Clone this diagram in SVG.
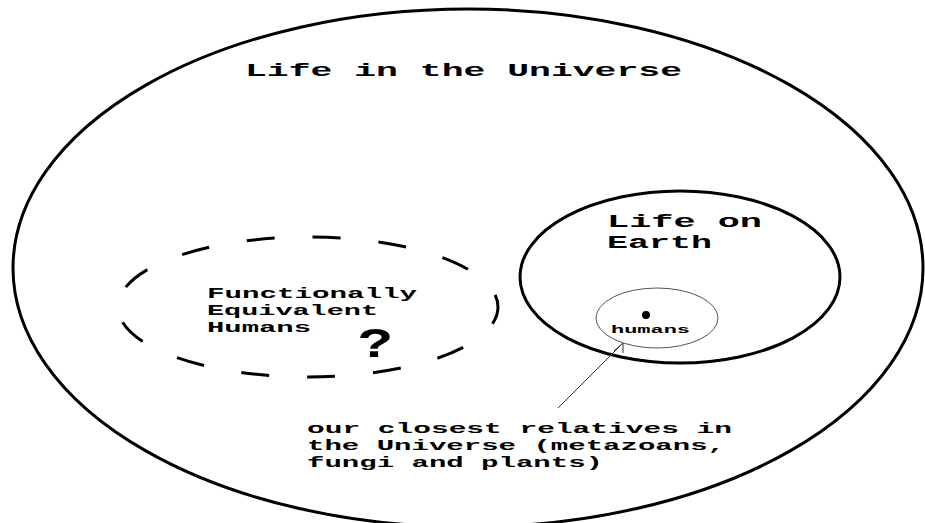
<svg xmlns="http://www.w3.org/2000/svg" width="925" height="523" viewBox="0 0 925 523">
<style>
.t{font-family:"Liberation Mono","DejaVu Sans Mono",monospace;font-weight:bold;fill:#000}
.thick{fill:none;stroke:#000;stroke-width:3}
</style>
<rect width="925" height="523" fill="#fff"/>
<g id="universe">
<ellipse class="thick" cx="468" cy="268" rx="455" ry="259"/>
<text class="t" x="245" y="76" font-size="19" textLength="437" lengthAdjust="spacingAndGlyphs">Life in the Universe</text>
</g>
<g id="functionally-equivalent">
<ellipse cx="308" cy="307" rx="190" ry="70" fill="none" stroke="#000" stroke-width="3" stroke-dasharray="28 38" stroke-dashoffset="10"/>
<text class="t" font-size="15"><tspan x="207" y="298" textLength="210" lengthAdjust="spacingAndGlyphs">Functionally</tspan><tspan x="207" y="315" textLength="171" lengthAdjust="spacingAndGlyphs">Equivalent</tspan><tspan x="207" y="332" textLength="104" lengthAdjust="spacingAndGlyphs">Humans</tspan></text>
<text class="t" x="358" y="357" font-size="42" textLength="35" lengthAdjust="spacingAndGlyphs">?</text>
</g>
<g id="earth">
<ellipse class="thick" cx="680" cy="277" rx="160" ry="86"/>
<text class="t" font-size="19"><tspan x="607" y="227" textLength="155" lengthAdjust="spacingAndGlyphs">Life on</tspan><tspan x="607" y="248" textLength="105" lengthAdjust="spacingAndGlyphs">Earth</tspan></text>
</g>
<g id="humans">
<ellipse cx="657" cy="318" rx="61" ry="30" fill="none" stroke="#555" stroke-width="1"/>
<circle cx="646" cy="315" r="4" fill="#000"/>
<text class="t" x="611" y="333" font-size="11" textLength="79" lengthAdjust="spacingAndGlyphs">humans</text>
</g>
<g id="connectors">
<line x1="558" y1="408" x2="623" y2="343" stroke="#333" stroke-width="1"/>
<polyline points="614,351 623,343 623,353" fill="none" stroke="#333" stroke-width="1"/>
</g>
<g id="relatives-label">
<text class="t" font-size="15"><tspan x="307" y="433" textLength="425" lengthAdjust="spacingAndGlyphs">our closest relatives in</tspan><tspan x="307" y="450" textLength="418" lengthAdjust="spacingAndGlyphs">the Universe (metazoans,</tspan><tspan x="307" y="467" textLength="296" lengthAdjust="spacingAndGlyphs">fungi and plants)</tspan></text>
</g>
</svg>
